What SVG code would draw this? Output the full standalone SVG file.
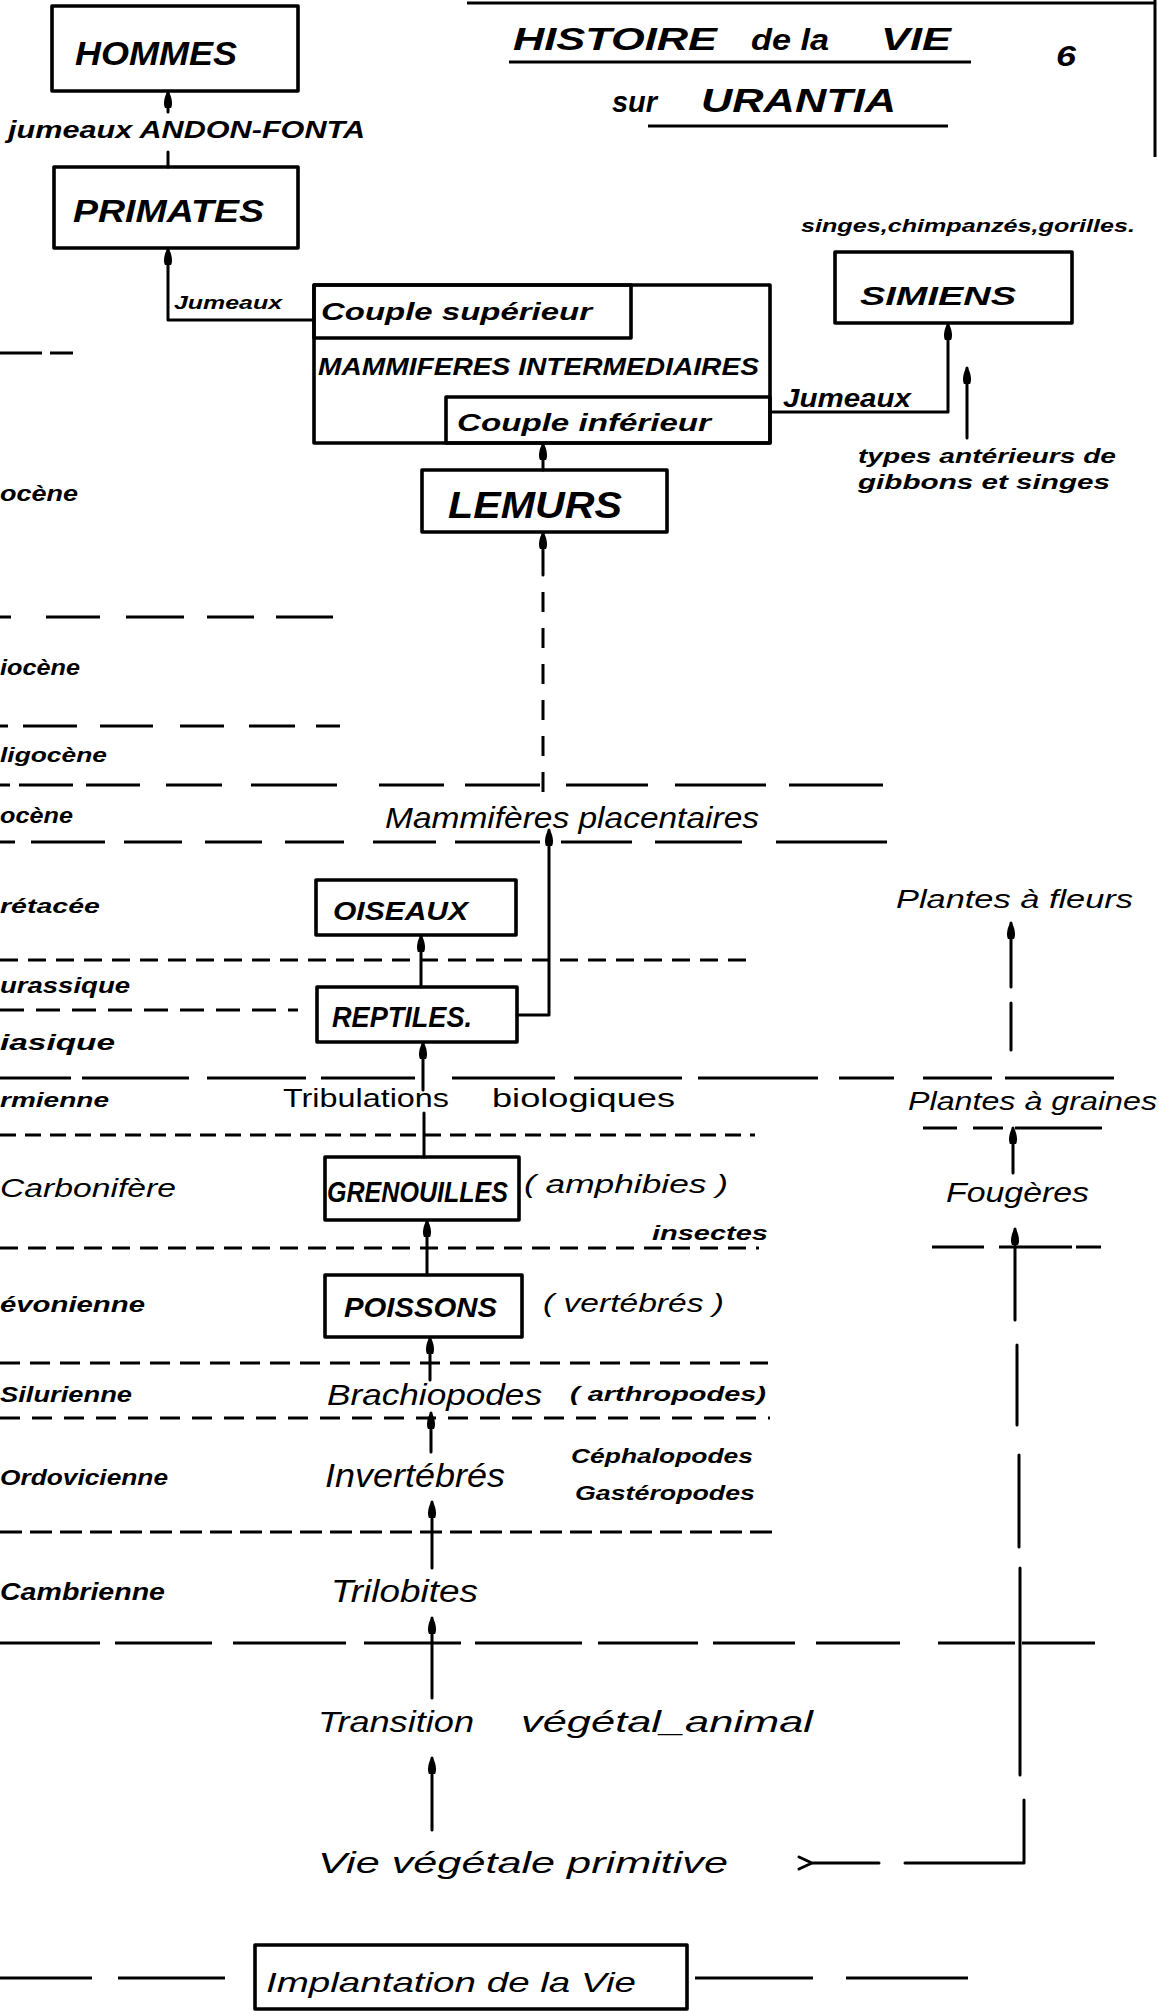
<svg xmlns="http://www.w3.org/2000/svg" width="1159" height="2011" viewBox="0 0 1159 2011">
  <style>
    .box { fill: none; stroke: #000; stroke-width: 3.6; stroke-linejoin: round; }
    .wire { fill: none; stroke: #000; stroke-width: 3; stroke-linecap: round; stroke-linejoin: round; }
    .rule { fill: none; stroke: #000; stroke-width: 3; }
    text { font-family: "Liberation Sans", Arial, sans-serif; font-style: italic; fill: #000; }
    .b { font-weight: bold; }
    .up { font-style: normal; }
  </style>
  <defs>
    <marker id="head" viewBox="-18 -6 20 12" markerWidth="20" markerHeight="12" refX="0" refY="0" orient="auto" markerUnits="userSpaceOnUse">
      <path d="M1,0 C-4,-4 -13,-5 -16,-3 L-16,3 C-13,5 -4,4 1,0 Z" fill="#000"/>
    </marker>
  </defs>

  <rect x="0" y="0" width="1159" height="2011" fill="#fff"/>

  <!-- page frame fragments -->
  <g id="frame">
    <path class="rule" d="M467,3 H1155 M1155,0 V157"/>
  </g>

  <!-- title -->
  <g id="title">
    <text class="b" x="513" y="50" font-size="32" textLength="204" lengthAdjust="spacingAndGlyphs">HISTOIRE</text>
    <text class="b" x="751" y="50" font-size="29" textLength="78" lengthAdjust="spacingAndGlyphs">de la</text>
    <text class="b" x="881" y="50" font-size="32" textLength="70" lengthAdjust="spacingAndGlyphs">VIE</text>
    <path class="rule" d="M509,62 H971"/>
    <text class="b" x="612" y="112" font-size="29" textLength="45" lengthAdjust="spacingAndGlyphs">sur</text>
    <text class="b" x="701" y="112" font-size="34" textLength="195" lengthAdjust="spacingAndGlyphs">URANTIA</text>
    <path class="rule" d="M648,126 H948"/>
    <text class="b" x="1056" y="66" font-size="30" textLength="20" lengthAdjust="spacingAndGlyphs">6</text>
  </g>

  <!-- geological era boundaries -->
  <g id="era-boundaries" class="rule">
    <path d="M0,353 H42 M50,353 H73"/>
    <path d="M0,617 H11 M46,617 H100 M126,617 H184 M207,617 H254 M276,617 H333"/>
    <path d="M0,726 H8 M23,726 H77 M100,726 H153 M180,726 H224 M249,726 H295 M316,726 H340"/>
    <path d="M0,785 H10 M19,785 H73 M86,785 H140 M166,785 H222 M251,785 H337 M379,785 H444 M465,785 H540 M566,785 H648 M675,785 H766 M789,785 H883"/>
    <path d="M0,842 H15 M31,842 H105 M124,842 H182 M205,842 H262 M285,842 H344 M373,842 H436 M455,842 H540 M561,842 H632 M655,842 H742 M776,842 H887"/>
    <path d="M0,960 H747" stroke-dasharray="18 10"/>
    <path d="M0,1010 H298" stroke-dasharray="24 12"/>
    <path d="M0,1078 H71 M82,1078 H189 M207,1078 H306 M321,1078 H415 M452,1078 H555 M574,1078 H682 M698,1078 H818 M839,1078 H894 M923,1078 H992 M1005,1078 H1114"/>
    <path d="M0,1135 H755" stroke-dasharray="16 9"/>
    <path d="M923,1128 H957 M973,1128 H1003 M1015,1128 H1102"/>
    <path d="M0,1248 H759" stroke-dasharray="18 10"/>
    <path d="M932,1247 H984 M999,1247 H1072 M1076,1247 H1101"/>
    <path d="M0,1363 H768" stroke-dasharray="20 10"/>
    <path d="M0,1418 H770" stroke-dasharray="20 12"/>
    <path d="M0,1532 H776" stroke-dasharray="22 8"/>
    <path d="M0,1643 H100 M115,1643 H212 M233,1643 H346 M364,1643 H461 M475,1643 H582 M598,1643 H698 M713,1643 H795 M816,1643 H900 M938,1643 H1015 M1022,1643 H1095"/>
    <path d="M0,1978 H92 M118,1978 H225 M695,1978 H813 M846,1978 H968"/>
  </g>

  <!-- era names along the left edge -->
  <g id="eras">
    <text class="b" x="0" y="501" font-size="22" textLength="78" lengthAdjust="spacingAndGlyphs">ocène</text>
    <text class="b" x="0" y="675" font-size="22" textLength="80" lengthAdjust="spacingAndGlyphs">iocène</text>
    <text class="b" x="0" y="762" font-size="21" textLength="107" lengthAdjust="spacingAndGlyphs">ligocène</text>
    <text class="b" x="0" y="823" font-size="22" textLength="73" lengthAdjust="spacingAndGlyphs">ocène</text>
    <text class="b" x="0" y="913" font-size="21" textLength="100" lengthAdjust="spacingAndGlyphs">rétacée</text>
    <text class="b" x="0" y="993" font-size="22" textLength="130" lengthAdjust="spacingAndGlyphs">urassique</text>
    <text class="b" x="0" y="1050" font-size="22" textLength="115" lengthAdjust="spacingAndGlyphs">iasique</text>
    <text class="b" x="0" y="1107" font-size="21" textLength="109" lengthAdjust="spacingAndGlyphs">rmienne</text>
    <text x="0" y="1197" font-size="25" textLength="176" lengthAdjust="spacingAndGlyphs">Carbonifère</text>
    <text class="b" x="0" y="1312" font-size="22" textLength="145" lengthAdjust="spacingAndGlyphs">évonienne</text>
    <text class="b" x="0" y="1402" font-size="22" textLength="132" lengthAdjust="spacingAndGlyphs">Silurienne</text>
    <text class="b" x="0" y="1485" font-size="22" textLength="168" lengthAdjust="spacingAndGlyphs">Ordovicienne</text>
    <text class="b" x="0" y="1600" font-size="23" textLength="165" lengthAdjust="spacingAndGlyphs">Cambrienne</text>
  </g>

  <!-- connectors -->
  <g id="connectors" class="wire">
    <path d="M168,167 V152"/>
    <path d="M168,112 V92" marker-end="url(#head)"/>
    <path d="M314,320 H168 V249" marker-end="url(#head)"/>
    <path d="M770,412 H948 V324" marker-end="url(#head)"/>
    <path d="M967,438 V368" marker-end="url(#head)"/>
    <path d="M543,470 V444" marker-end="url(#head)"/>
    <path d="M543,575 V533" marker-end="url(#head)"/>
    <path d="M543,592 V797" stroke-dasharray="20 16" stroke-linecap="butt"/>
    <path d="M517,1015 H549 V830" marker-end="url(#head)"/>
    <path d="M421,987 V936" marker-end="url(#head)"/>
    <path d="M423,1090 V1043" marker-end="url(#head)"/>
    <path d="M424,1157 V1113"/>
    <path d="M427,1275 V1221" marker-end="url(#head)"/>
    <path d="M430,1380 V1338" marker-end="url(#head)"/>
    <path d="M431,1452 V1413" marker-end="url(#head)"/>
    <path d="M432,1568 V1502" marker-end="url(#head)"/>
    <path d="M432,1698 V1618" marker-end="url(#head)"/>
    <path d="M432,1830 V1758" marker-end="url(#head)"/>
    <path d="M1011,987 V923" marker-end="url(#head)"/>
    <path d="M1011,1050 V1003"/>
    <path d="M1013,1173 V1128" marker-end="url(#head)"/>
    <path d="M1015,1320 V1229" marker-end="url(#head)"/>
    <path d="M1017,1425 V1345"/>
    <path d="M1019,1547 V1455"/>
    <path d="M1020,1775 V1568"/>
    <path d="M1024,1800 V1863 H905"/>
    <path d="M879,1863 H813"/>
    <path d="M799,1857 L812,1863 L799,1869"/>
  </g>

  <g id="hommes">
    <rect class="box" x="52" y="6" width="246" height="85"/>
    <text class="b" x="75" y="65" font-size="33" textLength="162" lengthAdjust="spacingAndGlyphs">HOMMES</text>
  </g>
  <g id="andon-fonta">
    <text class="b" x="8" y="138" font-size="23" textLength="357" lengthAdjust="spacingAndGlyphs">jumeaux ANDON-FONTA</text>
  </g>
  <g id="primates">
    <rect class="box" x="54" y="167" width="244" height="81"/>
    <text class="b" x="73" y="222" font-size="32" textLength="191" lengthAdjust="spacingAndGlyphs">PRIMATES</text>
  </g>
  <g id="label-jumeaux-left">
    <text class="b" x="174" y="309" font-size="19" textLength="108" lengthAdjust="spacingAndGlyphs">Jumeaux</text>
  </g>
  <g id="mammiferes-intermediaires">
    <rect class="box" x="314" y="285" width="456" height="158"/>
    <rect class="box" x="314" y="285" width="317" height="53"/>
    <rect class="box" x="446" y="397" width="324" height="46"/>
    <text class="b" x="321" y="320" font-size="23" textLength="271" lengthAdjust="spacingAndGlyphs">Couple supérieur</text>
    <text class="b" x="318" y="375" font-size="23" textLength="441" lengthAdjust="spacingAndGlyphs">MAMMIFERES INTERMEDIAIRES</text>
    <text class="b" x="457" y="431" font-size="23" textLength="254" lengthAdjust="spacingAndGlyphs">Couple inférieur</text>
  </g>
  <g id="simiens">
    <rect class="box" x="835" y="252" width="237" height="71"/>
    <text class="b" x="860" y="305" font-size="26" textLength="156" lengthAdjust="spacingAndGlyphs">SIMIENS</text>
    <text class="b" x="801" y="232" font-size="19" textLength="334" lengthAdjust="spacingAndGlyphs">singes,chimpanzés,gorilles.</text>
  </g>
  <g id="label-jumeaux-right">
    <text class="b" x="783" y="407" font-size="25" textLength="128" lengthAdjust="spacingAndGlyphs">Jumeaux</text>
  </g>
  <g id="types-anterieurs">
    <text class="b" x="858" y="463" font-size="21" textLength="258" lengthAdjust="spacingAndGlyphs">types antérieurs de</text>
    <text class="b" x="858" y="489" font-size="21" textLength="252" lengthAdjust="spacingAndGlyphs">gibbons et singes</text>
  </g>
  <g id="lemurs">
    <rect class="box" x="422" y="470" width="245" height="62"/>
    <text class="b" x="448" y="518" font-size="37" textLength="174" lengthAdjust="spacingAndGlyphs">LEMURS</text>
  </g>
  <g id="mammiferes-placentaires">
    <text x="385" y="828" font-size="29" textLength="374" lengthAdjust="spacingAndGlyphs">Mammifères placentaires</text>
  </g>
  <g id="oiseaux">
    <rect class="box" x="316" y="880" width="200" height="55"/>
    <text class="b" x="333" y="920" font-size="25" textLength="135" lengthAdjust="spacingAndGlyphs">OISEAUX</text>
  </g>
  <g id="reptiles">
    <rect class="box" x="317" y="987" width="200" height="55"/>
    <text class="b" x="332" y="1027" font-size="29" textLength="140" lengthAdjust="spacingAndGlyphs">REPTILES.</text>
  </g>
  <g id="tribulations">
    <text class="up" x="283" y="1107" font-size="26" textLength="166" lengthAdjust="spacingAndGlyphs">Tribulations</text>
    <text class="up" x="492" y="1107" font-size="26" textLength="183" lengthAdjust="spacingAndGlyphs">biologiques</text>
  </g>
  <g id="grenouilles">
    <rect class="box" x="325" y="1157" width="194" height="63"/>
    <text class="b" x="327" y="1202" font-size="29" textLength="181" lengthAdjust="spacingAndGlyphs">GRENOUILLES</text>
    <text x="524" y="1193" font-size="26" textLength="204" lengthAdjust="spacingAndGlyphs">( amphibies )</text>
  </g>
  <g id="insectes">
    <text class="b" x="652" y="1240" font-size="21" textLength="116" lengthAdjust="spacingAndGlyphs">insectes</text>
  </g>
  <g id="poissons">
    <rect class="box" x="325" y="1275" width="197" height="62"/>
    <text class="b" x="344" y="1317" font-size="28" textLength="153" lengthAdjust="spacingAndGlyphs">POISSONS</text>
    <text x="543" y="1312" font-size="25" textLength="181" lengthAdjust="spacingAndGlyphs">( vertébrés )</text>
  </g>
  <g id="brachiopodes">
    <text x="327" y="1405" font-size="30" textLength="215" lengthAdjust="spacingAndGlyphs">Brachiopodes</text>
    <text class="b" x="570" y="1401" font-size="20" textLength="196" lengthAdjust="spacingAndGlyphs">( arthropodes)</text>
  </g>
  <g id="invertebres">
    <text x="325" y="1487" font-size="33" textLength="180" lengthAdjust="spacingAndGlyphs">Invertébrés</text>
    <text class="b" x="571" y="1463" font-size="20" textLength="182" lengthAdjust="spacingAndGlyphs">Céphalopodes</text>
    <text class="b" x="575" y="1500" font-size="20" textLength="180" lengthAdjust="spacingAndGlyphs">Gastéropodes</text>
  </g>
  <g id="trilobites">
    <text x="331" y="1602" font-size="31" textLength="147" lengthAdjust="spacingAndGlyphs">Trilobites</text>
  </g>
  <g id="transition">
    <text x="318" y="1732" font-size="29" textLength="156" lengthAdjust="spacingAndGlyphs">Transition</text>
    <text x="521" y="1732" font-size="29" textLength="292" lengthAdjust="spacingAndGlyphs">végétal_animal</text>
  </g>
  <g id="vie-vegetale-primitive">
    <text x="318" y="1873" font-size="30" textLength="410" lengthAdjust="spacingAndGlyphs">Vie végétale primitive</text>
  </g>
  <g id="implantation">
    <rect class="box" x="255" y="1945" width="432" height="64"/>
    <text x="266" y="1992" font-size="28" textLength="370" lengthAdjust="spacingAndGlyphs">Implantation de la Vie</text>
  </g>
  <g id="plantes-a-fleurs">
    <text x="896" y="908" font-size="26" textLength="237" lengthAdjust="spacingAndGlyphs">Plantes à fleurs</text>
  </g>
  <g id="plantes-a-graines">
    <text x="908" y="1110" font-size="26" textLength="249" lengthAdjust="spacingAndGlyphs">Plantes à graines</text>
  </g>
  <g id="fougeres">
    <text x="946" y="1202" font-size="28" textLength="143" lengthAdjust="spacingAndGlyphs">Fougères</text>
  </g>
</svg>
